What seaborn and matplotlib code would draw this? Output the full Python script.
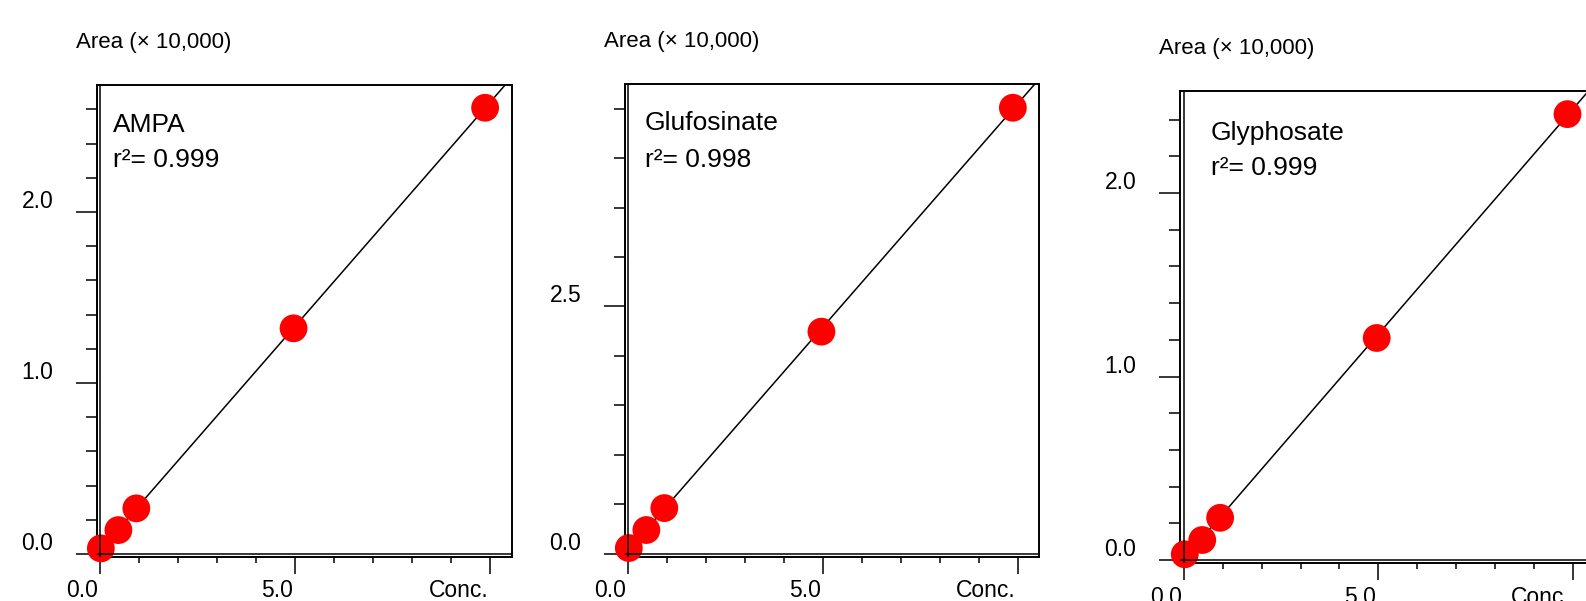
import numpy as np
import pandas as pd
import matplotlib
matplotlib.use("Agg")
import matplotlib.pyplot as plt
import matplotlib.transforms as mtransforms
from matplotlib.ticker import MultipleLocator
import seaborn as sns

# concentration of the five standards (same for all three compounds)
conc = [0.02, 0.47, 0.93, 4.96, 9.87]

# peak area (x 10,000)
ampa_area = [0.033, 0.14, 0.267, 1.32, 2.61]
glufosinate_area = [0.056, 0.238, 0.46, 2.245, 4.51]
glyphosate_area = [0.031, 0.109, 0.23, 1.21, 2.43]

names = ["AMPA", "Glufosinate", "Glyphosate"]
r2_values = ["0.999", "0.998", "0.999"]
areas = [ampa_area, glufosinate_area, glyphosate_area]

# tick labels
x_ticks = [0, 5, 10]
x_tick_labels = ["0.0", "5.0", "Conc."]
y_ticks = [[0, 1, 2], [0, 2.5], [0, 1, 2]]
y_tick_labels = [["0.0", "1.0", "2.0"], ["0.0", "2.5"], ["0.0", "1.0", "2.0"]]
y_minor = [0.2, 0.5, 0.2]

# layout of the three frames (figure fractions) and axis ranges
positions = [[0.0612, 0.0740, 0.2614, 0.7854],
             [0.3941, 0.0740, 0.2610, 0.7862],
             [0.7440, 0.0624, 0.2610, 0.7862]]
xlims = [(-0.077, 10.55), (-0.077, 10.54), (-0.103, 10.55)]
ylims = [(-0.0146, 2.746), (-0.03, 4.75), (-0.019, 2.556)]
text_x = [0.0386, 0.048, 0.075]
name_y = [0.900, 0.902, 0.896]
r2_y = [0.826, 0.824, 0.822]

sns.set_style("ticks", {"axes.edgecolor": "black", "xtick.color": "black",
                        "ytick.color": "black", "text.color": "black"})
plt.rcParams["font.family"] = ["Liberation Sans", "DejaVu Sans"]

fig = plt.figure(figsize=(15.86, 6.01), dpi=100)

for i in range(3):
    ax = fig.add_axes(positions[i])
    ax.set_xlim(xlims[i])
    ax.set_ylim(ylims[i])
    df = pd.DataFrame({"Conc": conc, "Area": areas[i]})

    # fitted calibration line across the whole frame
    sns.regplot(data=df, x="Conc", y="Area", ax=ax, scatter=False, ci=None,
                truncate=False, line_kws=dict(color="black", lw=1.1))
    sns.scatterplot(data=df, x="Conc", y="Area", ax=ax, color="#ff0000", s=400,
                    edgecolor="none", zorder=3, clip_on=False)

    # inner axis lines (the double-line look)
    ax.axvline(0, color="black", lw=1.1, zorder=4)
    ax.axhline(0, color="black", lw=1.1, zorder=4)

    ax.set_xlim(xlims[i])
    ax.set_ylim(ylims[i])
    ax.set_xlabel("")
    ax.set_ylabel("")
    for sp in ax.spines.values():
        sp.set_linewidth(1.4)
        sp.set_visible(True)

    ax.set_xticks(x_ticks, x_tick_labels)
    ax.xaxis.set_minor_locator(MultipleLocator(1))
    ax.set_yticks(y_ticks[i], y_tick_labels[i])
    ax.yaxis.set_minor_locator(MultipleLocator(y_minor[i]))

    ax.tick_params(axis="x", which="major", length=12.5, width=1.1, pad=3.5, labelsize=16.5)
    ax.tick_params(axis="x", which="minor", length=4.5, width=1.1)
    ax.tick_params(axis="y", which="major", length=15, width=1.1, pad=16.5, labelsize=16.5)
    ax.tick_params(axis="y", which="minor", length=8, width=1.1)

    # labels sit beside / above the tick, not centred on it
    for lab in ax.get_xticklabels():
        lab.set_ha("right")
        lab.set_transform(lab.get_transform() +
                          mtransforms.ScaledTranslation(-0.02, 0, fig.dpi_scale_trans))
    for lab in ax.get_yticklabels():
        lab.set_va("baseline")
        lab.set_transform(lab.get_transform() +
                          mtransforms.ScaledTranslation(0, 0.04, fig.dpi_scale_trans))

    ax.text(-0.05, 1.089, "Area (× 10,000)", transform=ax.transAxes,
            fontsize=16, ha="left", va="center")
    ax.text(text_x[i], name_y[i], names[i], transform=ax.transAxes,
            fontsize=19, ha="left", va="baseline")
    ax.text(text_x[i], r2_y[i], "r²= " + r2_values[i], transform=ax.transAxes,
            fontsize=19, ha="left", va="baseline")

fig.savefig("out.png", dpi=100)
